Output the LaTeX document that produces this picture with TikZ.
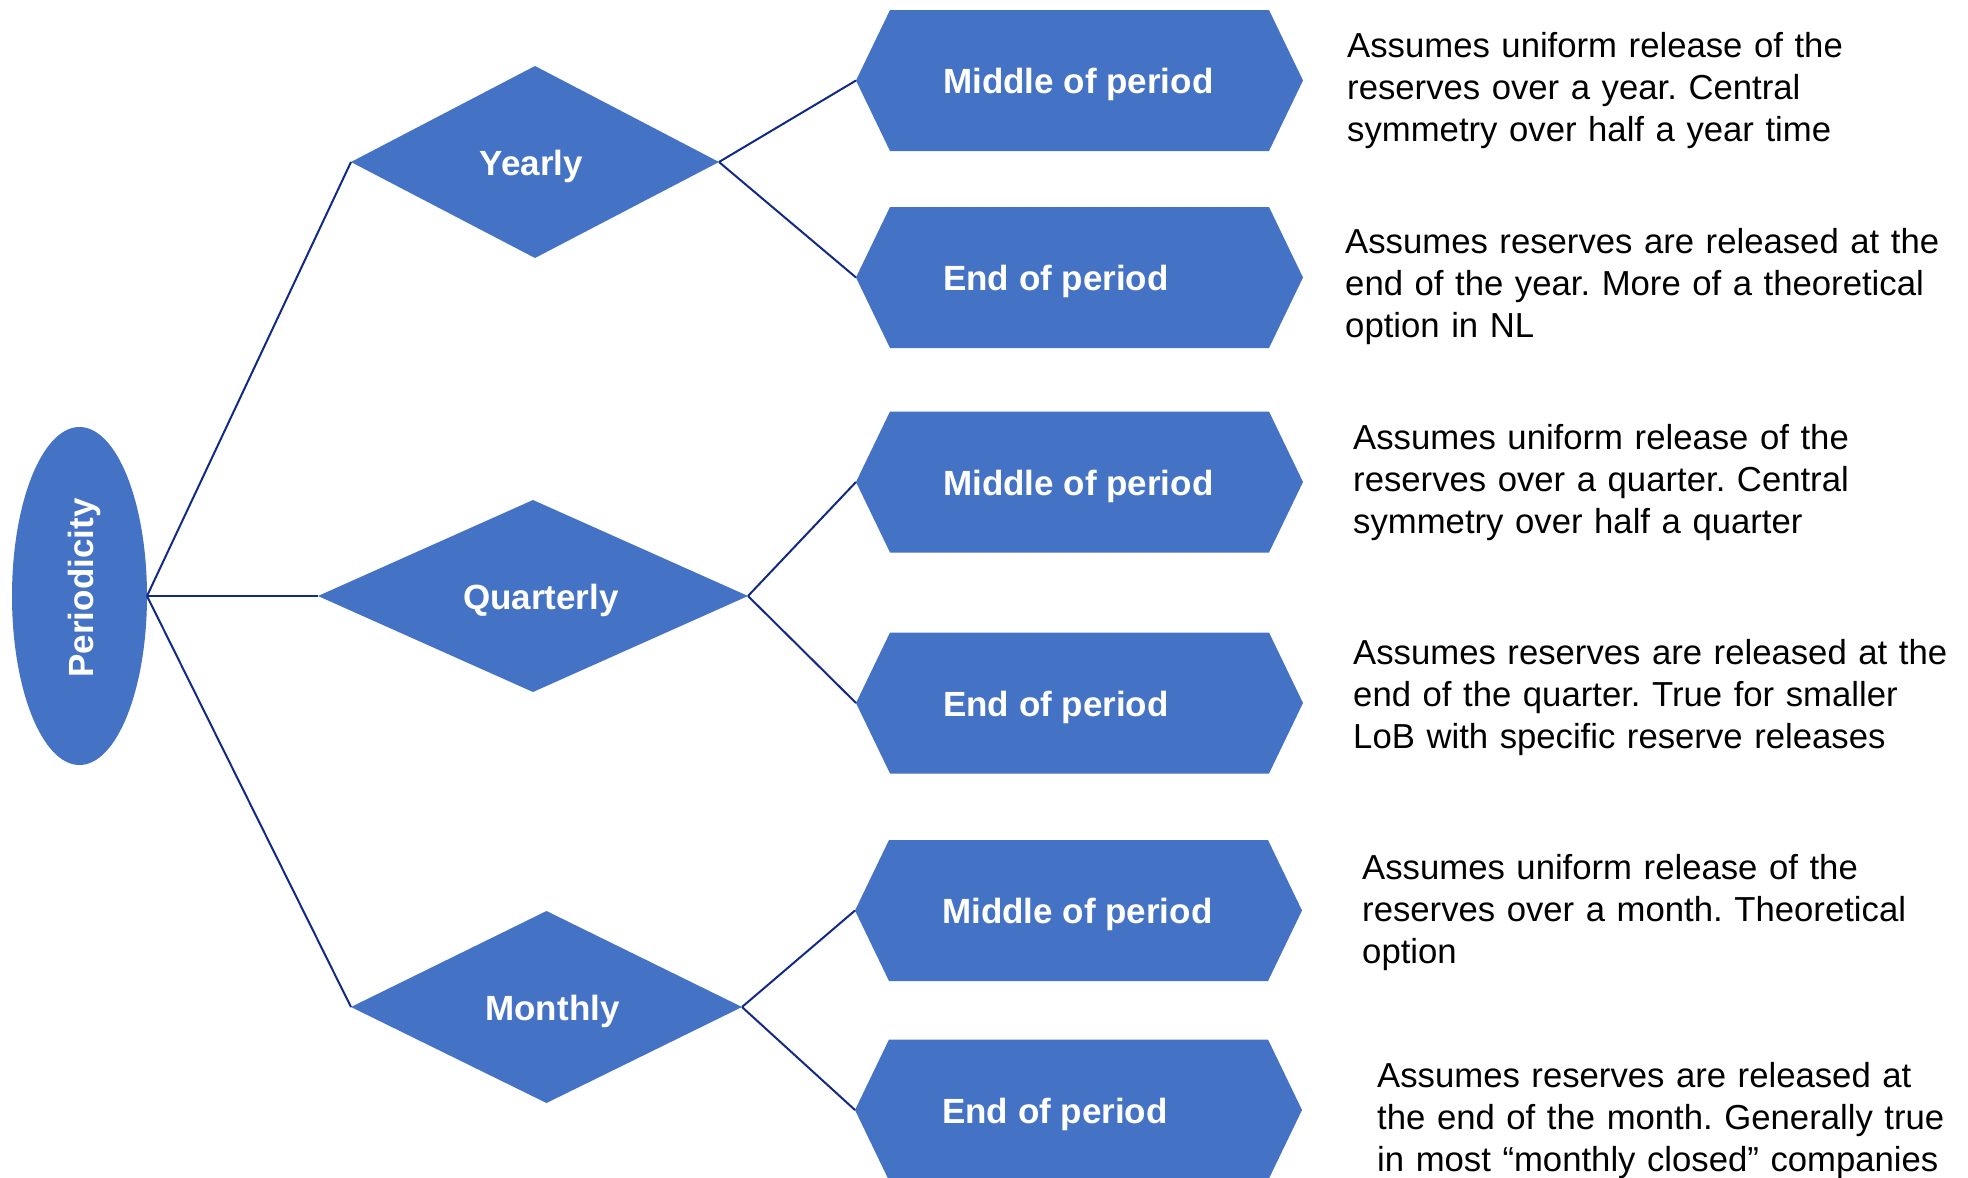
\documentclass[tikz,border=0pt]{standalone}
\usepackage{fontspec}
\setmainfont{Liberation Sans}
\usetikzlibrary{shapes.geometric}
\definecolor{boxblue}{HTML}{4472C4}
\definecolor{linkblue}{RGB}{16,42,134}

\begin{document}
\frenchspacing
\begin{tikzpicture}[x=1pt,y=-1pt,
  shapefill/.style={fill=boxblue, draw=none, inner sep=0pt, outer sep=0pt},
  choice/.style={shapefill, diamond, minimum width=#1, minimum height=192pt},
  boldtext/.style={font=\fontsize{35}{42}\selectfont\bfseries, text=white},
  dlabel/.style={boldtext, inner sep=0pt, text height=26pt, text depth=0pt},
  hlabel/.style={dlabel, anchor=west, xshift=87pt},
  hexbox/.style={rectangle, inner sep=0pt, outer sep=0pt,
    minimum width=447pt, minimum height=141pt,
    path picture={
      \fill[boxblue] (path picture bounding box.west)
        -- ([xshift=34pt]path picture bounding box.north west)
        -- ([xshift=-34pt]path picture bounding box.north east)
        -- (path picture bounding box.east)
        -- ([xshift=-34pt]path picture bounding box.south east)
        -- ([xshift=34pt]path picture bounding box.south west)
        -- cycle;}},
  desc/.style={anchor=base west, inner sep=0pt, align=left, text width=620pt,
    font=\fontsize{34.7}{42}\selectfont},
  link/.style={draw=linkblue, line width=2pt}]

\useasboundingbox (0,0) rectangle (1968,1178);

% root
\node[shapefill, ellipse, minimum width=135pt, minimum height=338pt] (root) at (79.5,596) {};
\node[boldtext, rotate=90, inner sep=0pt, text height=27pt, text depth=0pt] (rootlabel) at (79.5,588) {Periodicity};

% periodicity choices
\node[choice=368pt, label={[dlabel, xshift=-3.5pt]center:Yearly}] (yearly) at (535,162) {};
\node[choice=430pt, label={[dlabel, xshift=8pt]center:Quarterly}] (quarterly) at (533,596) {};
\node[choice=391pt, label={[dlabel, xshift=6pt]center:Monthly}] (monthly) at (546.5,1007) {};

% timing options
\node[hexbox, label={[hlabel]west:Middle of period}] (ymid) at (1079.5,80.5) {};
\node[hexbox, label={[hlabel]west:End of period}] (yend) at (1079.5,277.5) {};
\node[hexbox, label={[hlabel]west:Middle of period}] (qmid) at (1079.5,482) {};
\node[hexbox, label={[hlabel]west:End of period}] (qend) at (1079.5,703) {};
\node[hexbox, label={[hlabel]west:Middle of period}] (mmid) at (1078.5,910.5) {};
\node[hexbox, label={[hlabel]west:End of period}] (mend) at (1078.5,1110) {};

% descriptions
\node[desc] (ymidtxt) at (1347,57) {Assumes uniform release of the\\reserves over a year. Central\\symmetry over half a year time};
\node[desc] (yendtxt) at (1345,253) {Assumes reserves are released at the\\end of the year. More of a theoretical\\option in NL};
\node[desc] (qmidtxt) at (1353,449) {Assumes uniform release of the\\reserves over a quarter. Central\\symmetry over half a quarter};
\node[desc] (qendtxt) at (1353,664) {Assumes reserves are released at the\\end of the quarter. True for smaller\\LoB with specific reserve releases};
\node[desc] (mmidtxt) at (1362,879) {Assumes uniform release of the\\reserves over a month. Theoretical\\option};
\node[desc] (mendtxt) at (1377,1087) {Assumes reserves are released at\\the end of the month. Generally true\\in most “monthly closed” companies};

% connectors
\draw[link] (root.east) -- (yearly.west);
\draw[link] (root.east) -- (quarterly.west);
\draw[link] (root.east) -- (monthly.west);
\draw[link] (yearly.east) -- (ymid.west);
\draw[link] (yearly.east) -- (yend.west);
\draw[link] (quarterly.east) -- (qmid.west);
\draw[link] (quarterly.east) -- (qend.west);
\draw[link] (monthly.east) -- (mmid.west);
\draw[link] (monthly.east) -- (mend.west);
\end{tikzpicture}
\end{document}
